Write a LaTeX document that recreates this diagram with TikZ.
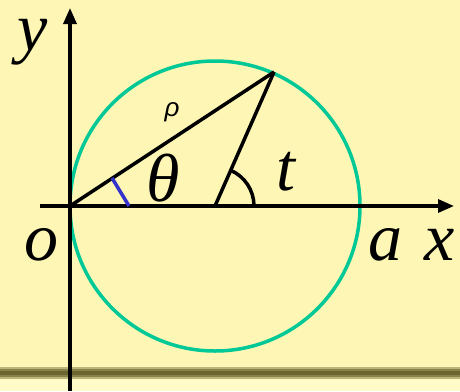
\documentclass[tikz,border=0pt]{standalone}
\usepackage{fontspec}
\setmainfont{Liberation Serif}
\newfontfamily\rhofont{Liberation Sans}
\usetikzlibrary{arrows.meta}
\definecolor{bgyel}{HTML}{FDF6B4}
\definecolor{bglow}{HTML}{FFFBC8}
\definecolor{circ}{HTML}{00C896}
\definecolor{bluem}{HTML}{3333CC}
\definecolor{shad}{HTML}{6B6530}
\tikzset{
  axis/.style={line width=3.3pt,-{Triangle[length=16pt,width=13pt]}},
  seg/.style={line width=3.5pt},
  lab/.style={font=\fontsize{68}{68}\selectfont\itshape,inner sep=0pt}
}
\begin{document}
\begin{tikzpicture}[x=1pt,y=-1pt]
\useasboundingbox (0,0) rectangle (460,391);
\fill[bgyel] (0,0) rectangle (460,391);
\fill[bglow] (0,373) rectangle (460,391);
\fill[shad!45!bgyel] (0,367) rectangle (460,379);
\fill[shad!80!bgyel] (0,369) rectangle (460,377);
\fill[shad] (0,371) rectangle (460,375);
\coordinate (O) at (70,206);
\coordinate (C) at (215,206);
\coordinate (P) at (274,72);
\coordinate (xs) at (40,206);
\coordinate (xe) at (454,206);
\coordinate (ys) at (70,391);
\coordinate (ye) at (70,8);
\coordinate (b1) at (129,206);
\coordinate (b2) at (112,178);
\draw[circ,line width=3.5pt] (C) circle[radius=145];
\draw[axis] (xs) -- (xe);
\draw[axis] (ys) -- (ye);
\draw[seg] (O) -- (P);
\draw[seg] (C) -- (P);
\draw[seg] (254,206) arc[start angle=0,end angle=-66.6,radius=39];
\draw[bluem,line width=3.5pt] (b1) -- (b2);
\node[lab] (ly) at (33,42) {y};
\node[lab] (lth) at (163,178) {θ};
\node[lab] (lt) at (286,172) {t};
\node[lab] (lo) at (41,245) {o};
\node[lab] (la) at (385,245) {a};
\node[lab] (lx) at (440,245) {x};
\node[inner sep=0pt,font=\fontsize{26}{26}\selectfont\rhofont\itshape] (lr) at (172,112) {ρ};
\end{tikzpicture}
\end{document}
